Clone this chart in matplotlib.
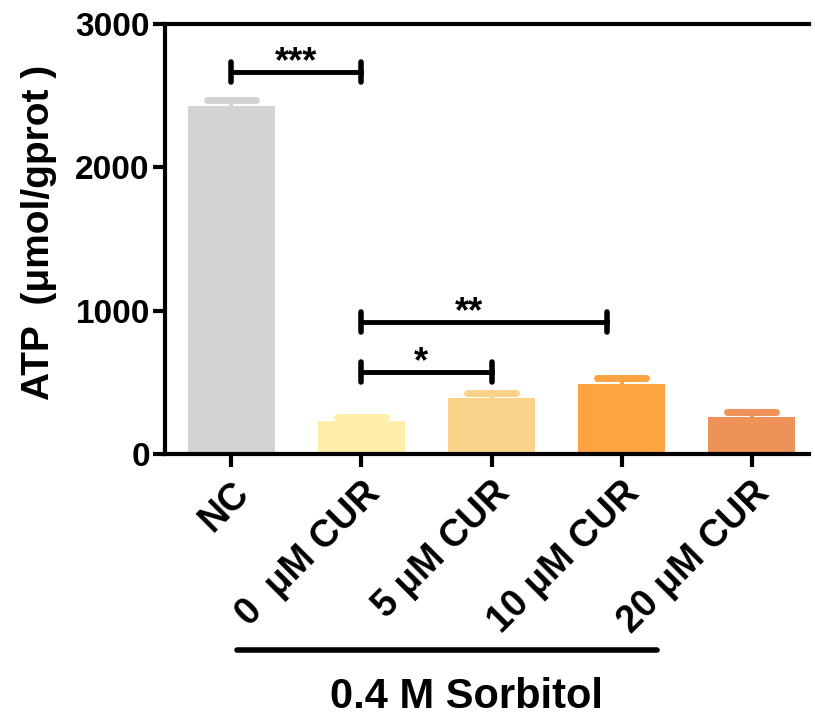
import numpy as np
import matplotlib
matplotlib.use('Agg')
import matplotlib.pyplot as plt

plt.rcParams['font.family'] = ['Liberation Sans', 'DejaVu Sans']
plt.rcParams['font.weight'] = 'bold'

groups = ['NC', '0  μM CUR', '5 μM CUR', '10 μM CUR', '20 μM CUR']
means = [2428, 232, 393, 488, 262]
errs = [40, 24, 31, 40, 33]
colors = ['#d3d3d3', '#fdeea8', '#fad28a', '#fea342', '#ed9359']

# significance brackets: left x, right x, height, label and label x
sig_left = [0, 1, 1]
sig_right = [1, 2, 2.89]
sig_y = [2666, 574, 923]
sig_text = ['***', '*', '**']
sig_text_x = [0.5, 1.46, 1.83]

fig = plt.figure(figsize=(8.15, 7.22), dpi=100)
ax = fig.add_axes([0.2025, 0.371, 0.79, 0.596])

x = np.arange(len(groups))
bar_w = 0.67
ax.bar(x, means, width=bar_w, color=colors, zorder=2)

cap_half = 0.19
for xi, m, e, c in zip(x, means, errs, colors):
    ax.plot([xi, xi], [m, m + e], color=c, lw=3, zorder=1)
    ax.plot([xi - cap_half, xi + cap_half], [m + e, m + e], color=c, lw=5,
            solid_capstyle='round', zorder=1)

tick_h = 70
for x0, x1, y, t, tx in zip(sig_left, sig_right, sig_y, sig_text, sig_text_x):
    ax.plot([x0, x1], [y, y], color='black', lw=3.5, zorder=3)
    for xx in (x0, x1):
        ax.plot([xx, xx], [y - tick_h, y + tick_h], color='black', lw=4,
                solid_capstyle='round', zorder=3)
    ax.text(tx, y + 186, t, ha='center', va='top',
            fontsize=26, fontweight='bold')

ax.set_xlim(-0.51, 4.44)
ax.set_ylim(0, 3000)
ax.set_yticks([0, 1000, 2000, 3000])
ax.set_xticks(x)
ax.set_xticklabels(groups, rotation=45, ha='right', va='top',
                   rotation_mode='anchor', fontsize=27, fontweight='bold')
ax.tick_params(axis='y', labelsize=24, width=3, length=9, pad=2)
ax.tick_params(axis='x', width=3, length=9, pad=6)
for lab in ax.get_yticklabels():
    lab.set_fontweight('bold')

ax.spines['right'].set_visible(False)
for s in ('left', 'bottom', 'top'):
    ax.spines[s].set_linewidth(3)

ax.set_ylabel('ATP  (μmol/gprot )', fontsize=28, fontweight='bold')
ax.yaxis.set_label_coords(-0.168, 0.516)

# group line and label under the x axis
fig.add_artist(plt.Line2D([237 / 815, 657 / 815], [1 - 650 / 722, 1 - 650 / 722],
                          color='black', lw=4, solid_capstyle='round'))
fig.text(466 / 815, 1 - 697 / 722, '0.4 M Sorbitol', ha='center', va='center',
         fontsize=30, fontweight='bold')

fig.savefig('out.png', dpi=100)
